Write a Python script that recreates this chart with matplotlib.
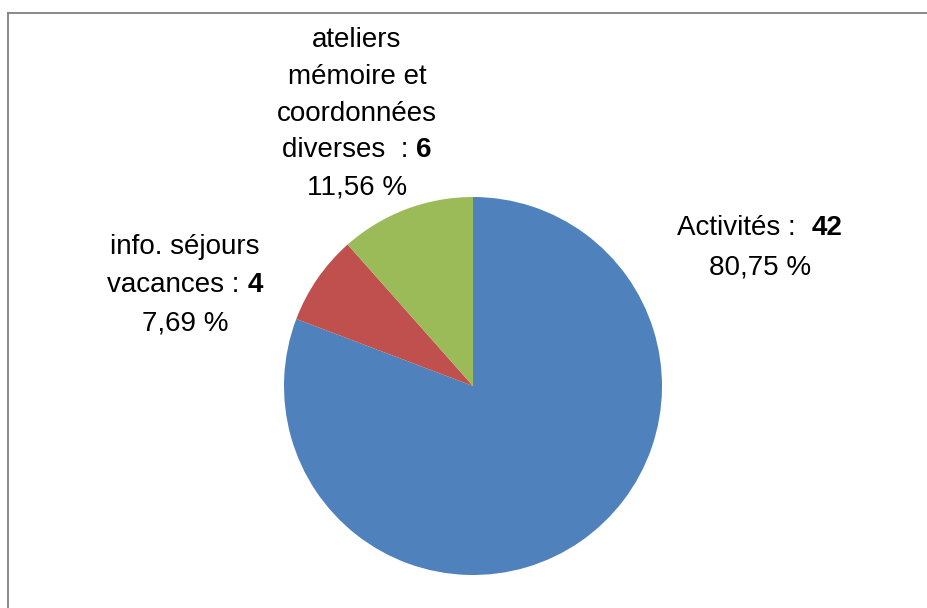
import matplotlib
matplotlib.use("Agg")
import matplotlib.pyplot as plt
from matplotlib.offsetbox import TextArea, HPacker, AnnotationBbox

plt.rcParams['font.family'] = ['Liberation Sans', 'DejaVu Sans']

# data
values = [42, 4, 6]
colors = ['#4F81BD', '#C0504D', '#9BBB59']
name_lines = [
    ["Activités :  "],
    ["info. séjours", "vacances : "],
    ["ateliers", "mémoire et", "coordonnées", "diverses  : "],
]
pct_labels = ["80,75 %", "7,69 %", "11,56 %"]

# label layout (pixel coords, y from top): centre x, first line y, line step
label_pos = [(760, 228, 40), (185, 247, 38), (357, 40, 36.8)]

W, H = 927, 608
fig = plt.figure(figsize=(W / 100, H / 100), dpi=100)
ax = fig.add_axes([0, 0, 1, 1])

cx, cy, r = 473, H - 386, 189
ax.pie(values, colors=colors, startangle=90, counterclock=False,
       center=(cx, cy), radius=r, frame=True,
       wedgeprops=dict(linewidth=0))
ax.set_xlim(0, W)
ax.set_ylim(0, H)
ax.set_aspect('equal')
ax.axis('off')

# frame: only top and left edges visible
ax.plot([8.5, 8.5], [0, H - 13], color='#808080', lw=1.3, clip_on=False)
ax.plot([8.5, W], [H - 13, H - 13], color='#808080', lw=1.3, clip_on=False)

fs = 20
for lines, val, pct, (lx, ly, step) in zip(name_lines, values, pct_labels, label_pos):
    rows = []
    for i, ln in enumerate(lines):
        if i == len(lines) - 1:
            rows.append([TextArea(ln, textprops=dict(size=fs, color='black')),
                         TextArea(str(val), textprops=dict(size=fs, weight='bold', color='black'))])
        else:
            rows.append([TextArea(ln, textprops=dict(size=fs, color='black'))])
    rows.append([TextArea(pct, textprops=dict(size=fs, color='black'))])
    for k, row in enumerate(rows):
        box = HPacker(children=row, pad=0, sep=0, align='baseline')
        ab = AnnotationBbox(box, (lx, H - (ly + k * step)), frameon=False,
                            box_alignment=(0.5, 0.5), pad=0)
        ax.add_artist(ab)

fig.savefig('out.png', dpi=100)
